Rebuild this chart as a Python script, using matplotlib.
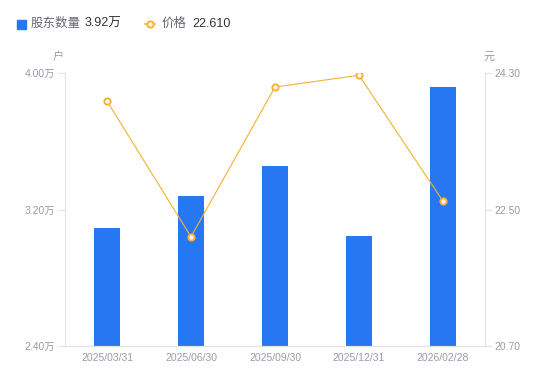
import matplotlib
matplotlib.use("Agg")
import matplotlib.pyplot as plt
from matplotlib.lines import Line2D

plt.rcParams['font.family'] = ['Liberation Sans', 'Noto Sans CJK SC', 'DejaVu Sans']

categories = ["2025/03/31", "2025/06/30", "2025/09/30", "2025/12/31", "2026/02/28"]
holders = [3.09, 3.28, 3.455, 3.045, 3.92]   # 万户
prices = [23.93, 22.14, 24.115, 24.27, 22.61]  # 元
left_ticks = [2.40, 3.20, 4.00]
right_ticks = [20.70, 22.50, 24.30]

bar_color = "#2677F1"
line_color = "#F8B133"
tick_color = "#9A9BAA"
axis_color = "#E3E3E6"

fig = plt.figure(figsize=(5.5, 3.81), dpi=100)
ax = fig.add_axes([65/550, 35/381, 420/550, 273/381])
ax2 = ax.twinx()

x = list(range(len(categories)))
ax.bar(x, holders, width=0.3, color=bar_color, zorder=2)
ax.set_ylim(left_ticks[0], left_ticks[-1])
ax.set_xlim(-0.5, len(categories) - 0.5)
ax.set_yticks(left_ticks)
ax.set_yticklabels([f"{v:.2f}万" for v in left_ticks])
ax.set_xticks(x)
ax.set_xticklabels(categories)

ax2.plot(x, prices, color=line_color, lw=0.8, marker='o', markersize=4.5,
         markerfacecolor='white', markeredgecolor=line_color, markeredgewidth=1.4, zorder=3)
ax2.set_ylim(right_ticks[0], right_ticks[-1])
ax2.set_yticks(right_ticks)
ax2.set_yticklabels([f"{v:.2f}" for v in right_ticks])

for a in (ax, ax2):
    for s in a.spines.values():
        s.set_color(axis_color)
        s.set_linewidth(0.8)
    a.spines['top'].set_visible(False)
    a.tick_params(colors=axis_color, labelcolor=tick_color, labelsize=7.5, length=5, width=0.8, pad=2)
ax.tick_params(axis='x', length=0, pad=5)
ax.spines['right'].set_visible(False)
ax2.spines['left'].set_visible(False)

fig.text(53/550, 1 - 57/381, "户", ha='left', va='center', fontsize=8, color=tick_color)
fig.text(484/550, 1 - 57/381, "元", ha='left', va='center', fontsize=8, color=tick_color)

# legend
ly = 1 - 24/381
fig.patches.append(plt.Rectangle((17/550, ly - 4.5/381), 9/550, 9/381, transform=fig.transFigure,
                                 color=bar_color, figure=fig))
fig.text(31/550, ly, "股东数量", ha='left', va='center', fontsize=9, color="#666672")
fig.text(85/550, ly, f"{holders[-1]:.2f}万", ha='left', va='center', fontsize=9, color="#333333")
fig.lines.append(Line2D([145/550, 155/550], [ly, ly], transform=fig.transFigure, color=line_color, lw=1.2))
fig.lines.append(Line2D([150/550], [ly], transform=fig.transFigure, color=line_color, lw=0,
                        marker='o', markersize=4.5, markerfacecolor='white',
                        markeredgecolor=line_color, markeredgewidth=1.4))
fig.text(162/550, ly, "价格", ha='left', va='center', fontsize=9, color="#666672")
fig.text(192/550, ly, f"{prices[-1]:.3f}", ha='left', va='center', fontsize=9, color="#333333")

fig.savefig("out.png", dpi=100)
